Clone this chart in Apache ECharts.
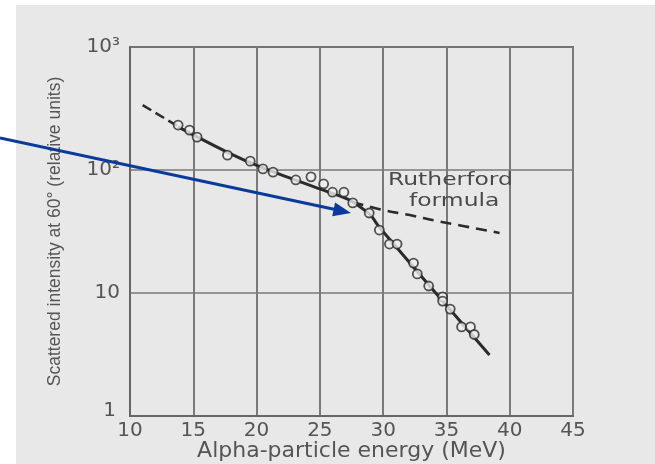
<!DOCTYPE html>
<html>
<head>
<meta charset="utf-8">
<script src="https://cdn.jsdelivr.net/npm/echarts@6/dist/echarts.min.js"></script>
<style>
html,body{margin:0;padding:0;background:#fff;}
#chart{width:655px;height:464px;
background:linear-gradient(to right,#fff 16px,transparent 16px),linear-gradient(to bottom,#fff 5px,#e8e8e8 5px);}
</style>
</head>
<body>
<div id="chart"></div>
<script>
// Measured points (circles)
const energy    = [13.8,14.7,15.3,17.7,19.5,20.5,21.3,23.1,24.3,25.3,26.0,26.9,27.6,28.9,29.7,30.5,31.1,32.4,32.7,33.6,34.7,34.7,35.3,36.2,36.9,37.2];
const intensity = [232, 211, 185, 132, 118, 102, 96,  83,  88,  77,  66,  66,  54,  44.7,32.5,25.0,25.0,17.5,14.3,11.4,9.3, 8.6, 7.4, 5.3, 5.3, 4.6];
// Smooth fit through the data (solid curve)
const fitEnergy    = [13.8,17.66,20.5,25.0,27.2,28.2,29.0,29.75,38.4];
const fitIntensity = [224, 140,  104, 70.2,58.0,50.0,43.0,33.7, 3.13];
// Rutherford formula (dashed curve), low- and high-energy parts
const rutherLowE  = [11.0,13.8];
const rutherLowI  = [337, 226];
const rutherHighE = [27.6,30.0,32.1,34.25,36.3,39.2];
const rutherHighI = [55,  47.3,43.0,38.5, 35.1,30.8];
// Axis tick labels
const yTickLabels = {1:'1',10:'10',100:'10²',1000:'10³'};
const xTicks = [10,15,20,25,30,35,40,45];

const zip = (a,b)=>a.map((v,i)=>[v,b[i]]);
const ink = '#2b2b2b';
const gridCol = '#7a7a7a';
const txt = '#555';

const chart = echarts.init(document.getElementById('chart'), null, {renderer:'canvas'});
chart.setOption({
  backgroundColor:'transparent',
  animation:false,
  grid:{left:130, top:47, right:82, bottom:48, outerBoundsMode:'none', containLabel:false,
        show:true, borderColor:'#666', borderWidth:2, backgroundColor:'transparent'},
  xAxis:{
    type:'value', min:xTicks[0], max:xTicks[xTicks.length-1], interval:5,
    name:'Alpha-particle energy (MeV)', nameLocation:'middle', nameGap:24, nameMoveOverlap:false,
    nameTextStyle:{color:txt, fontSize:22, fontFamily:'DejaVu Sans'},
    axisLine:{show:true, lineStyle:{color:'#666', width:2}},
    axisTick:{show:false},
    axisLabel:{color:txt, fontSize:20, fontFamily:'DejaVu Sans', margin:5},
    splitLine:{show:true, lineStyle:{color:gridCol, width:2}}
  },
  yAxis:{
    type:'log', logBase:10, min:1, max:1000,
    name:'Scattered intensity at 60° (relative units)', nameLocation:'middle', nameGap:66, nameMoveOverlap:false,
    nameTextStyle:{color:txt, fontSize:17.5, fontFamily:"'Liberation Sans',sans-serif"},
    axisLine:{show:true, lineStyle:{color:'#666', width:2}},
    axisTick:{show:false},
    axisLabel:{color:txt, fontSize:20, fontFamily:'DejaVu Sans', margin:10,
      formatter:v=> v===1 ? '{one|1}' : (yTickLabels[Math.round(v)]||''),
      rich:{one:{fontSize:20, fontFamily:'DejaVu Sans', color:txt, padding:[0,4,10,0]}}},
    splitLine:{show:true, lineStyle:{color:gridCol, width:1.5}}
  },
  series:[
    {type:'line', name:'Rutherford low', data:zip(rutherLowE,rutherLowI), showSymbol:false, smooth:false,
     lineStyle:{color:ink, width:2.6, type:[10,5]}, z:3},
    {type:'line', name:'Rutherford high', data:zip(rutherHighE,rutherHighI), showSymbol:false, smooth:true,
     lineStyle:{color:ink, width:2.6, type:[11,7]}, z:3},
    {type:'line', name:'Fit', data:zip(fitEnergy,fitIntensity), showSymbol:false, smooth:0.3,
     lineStyle:{color:ink, width:3}, z:4},
    {type:'scatter', name:'Data', data:zip(energy,intensity), symbol:'circle', symbolSize:9,
     itemStyle:{color:'#ededed', borderColor:ink, borderWidth:1.8}, z:5}
  ],
  graphic:[
    {type:'text', left:388, top:172, z:10,
     style:{text:'Rutherford', fill:'#4a4a4a', font:'17px "DejaVu Sans"'}, scaleX:1.38},
    {type:'text', left:409, top:193, z:10,
     style:{text:'formula', fill:'#4a4a4a', font:'17px "DejaVu Sans"'}, scaleX:1.38},
    {type:'line', z:20, shape:{x1:0, y1:138, x2:334, y2:209.3},
     style:{stroke:'#0a3a9c', lineWidth:3}},
    {type:'polygon', z:20, shape:{points:[[351,213],[332.2,216.3],[335.1,202.4]]},
     style:{fill:'#0a3a9c'}}
  ]
});
</script>
</body>
</html>
